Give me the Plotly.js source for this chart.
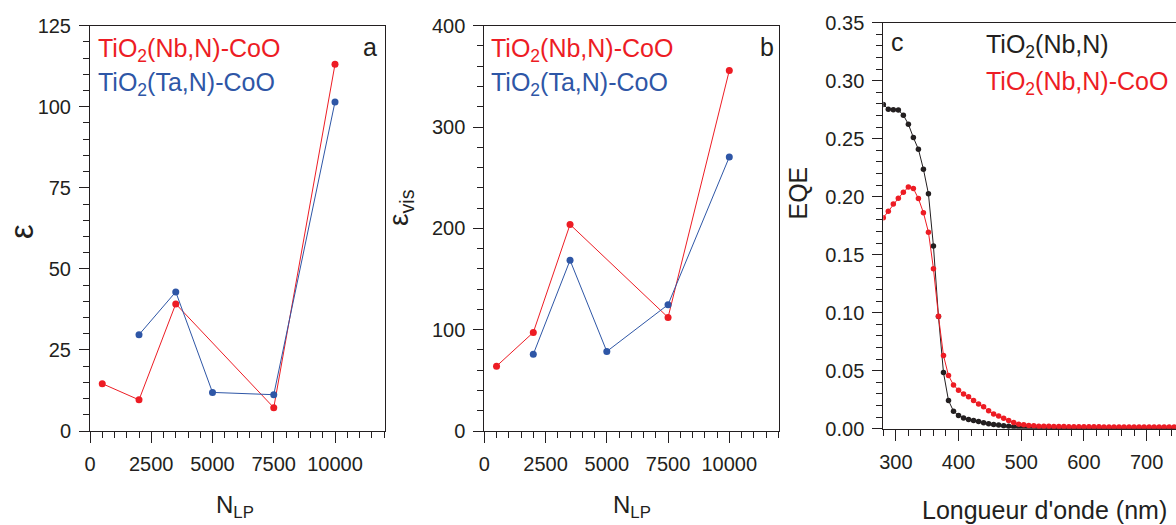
<!DOCTYPE html>
<html>
<head>
<meta charset="utf-8">
<script src="https://cdn.plot.ly/plotly-3.0.1.min.js"></script>
<style>
html,body{margin:0;padding:0;overflow:hidden;background:#fff;width:1176px;height:525px;}
#chart{width:1182px;height:525px;}
</style>
</head>
<body>
<div id="chart"></div>
<script>
// ---- Data ----
// Panel a / b : N_LP values
const nlpNb = [500, 2000, 3500, 7500, 10000];
const nlpTa = [2000, 3500, 5000, 7500, 10000];
// Panel a : epsilon
const epsNb = [14.6, 9.6, 39.2, 7.2, 113.1];
const epsTa = [29.7, 42.9, 11.9, 11.2, 101.5];
// Panel b : epsilon_vis
const epsVisNb = [64, 97.3, 203.8, 112.1, 355.8];
const epsVisTa = [75.8, 168.5, 78.5, 124.7, 270.4];
// Panel c : EQE vs wavelength
const wavelength = [280,288,296,304,312,320,328,336,344,352,360,368,376,384,392,400,408,416,424,432,440,448,456,464,472,480,488,496,504,512,520,528,536,544,552,560,568,576,584,592,600,608,616,624,632,640,648,656,664,672,680,688,696,704,712,720,728,736,744,752];
const eqeNbN = [0.2796,0.2755,0.2750,0.2747,0.2703,0.2625,0.2510,0.2409,0.2238,0.2025,0.1575,0.0968,0.0485,0.0244,0.0152,0.0114,0.0093,0.0080,0.0072,0.0062,0.0052,0.0044,0.0038,0.0032,0.0026,0.0022,0.0017,0.0014,0.0011,0.0009,0.0008,0.0007,0.0006,0.0006,0.0005,0.0005,0.0005,0.0004,0.0004,0.0004,0.0004,0.0003,0.0003,0.0003,0.0003,0.0003,0.0003,0.0003,0.0003,0.0003,0.0003,0.0003,0.0003,0.0003,0.0003,0.0003,0.0003,0.0003,0.0003,0.0003];
const eqeNbNCoO = [0.1819,0.1875,0.1938,0.1987,0.2039,0.2083,0.2071,0.1984,0.1863,0.1695,0.1380,0.0970,0.0632,0.0459,0.0378,0.0332,0.0300,0.0277,0.0243,0.0214,0.0191,0.0156,0.0127,0.0110,0.0090,0.0072,0.0055,0.0040,0.0035,0.0029,0.0026,0.0023,0.0022,0.0021,0.0020,0.0019,0.0019,0.0018,0.0018,0.0018,0.0017,0.0017,0.0017,0.0017,0.0016,0.0016,0.0016,0.0016,0.0016,0.0016,0.0015,0.0015,0.0015,0.0015,0.0015,0.0015,0.0015,0.0015,0.0015,0.0015];
const legendNb = 'TiO<sub>2</sub>(Nb,N)-CoO';
const legendTa = 'TiO<sub>2</sub>(Ta,N)-CoO';
const legendNbN = 'TiO<sub>2</sub>(Nb,N)';

// ---- Styling ----
const W = 1182, H = 525;
const px = x => x / W;
const py = y => 1 - y / H;
const RED = '#ED1C24', BLUE = '#2E56A6', BLACK = '#231F20';
const FONT = 'Liberation Sans, Arial, Helvetica, sans-serif';

const traces = [
  {x: nlpNb, y: epsNb, xaxis:'x', yaxis:'y', mode:'lines+markers', line:{color:RED, width:1}, marker:{color:RED, size:7}},
  {x: nlpTa, y: epsTa, xaxis:'x', yaxis:'y', mode:'lines+markers', line:{color:BLUE, width:1}, marker:{color:BLUE, size:7}},
  {x: nlpNb, y: epsVisNb, xaxis:'x2', yaxis:'y2', mode:'lines+markers', line:{color:RED, width:1}, marker:{color:RED, size:7}},
  {x: nlpTa, y: epsVisTa, xaxis:'x2', yaxis:'y2', mode:'lines+markers', line:{color:BLUE, width:1}, marker:{color:BLUE, size:7}},
  {x: wavelength, y: eqeNbN, xaxis:'x3', yaxis:'y3', mode:'lines+markers', line:{color:BLACK, width:1}, marker:{color:BLACK, size:5.5}},
  {x: wavelength, y: eqeNbNCoO, xaxis:'x3', yaxis:'y3', mode:'lines+markers', line:{color:RED, width:1}, marker:{color:RED, size:5.5}}
];

function mainAx(o) {
  return Object.assign({
    showgrid:false, zeroline:false, showline:true, linecolor:BLACK, linewidth:1,
    mirror:true, ticks:'outside', tickcolor:BLACK, tickwidth:1,
    tickfont:{size:20, color:BLACK, family:FONT}, ticklabelstandoff:4, fixedrange:true
  }, o);
}
function mirrorAx(o) {
  return Object.assign({
    showgrid:false, zeroline:false, showline:false, showticklabels:false,
    ticks:'inside', tickcolor:BLACK, tickwidth:1, ticklen:3, fixedrange:true
  }, o);
}

const dA = [px(90), px(385)], dB = [px(484.3), px(779.3)], dC = [px(883.3), px(1179.2)];
const yAB = [py(431), py(25.7)], yC = [py(428.8), py(22.7)];
const rX = [0, 12041], rC = [280, 752];

const layout = {
  width: W, height: H,
  margin:{l:0, r:0, t:0, b:0},
  paper_bgcolor:'#fff', plot_bgcolor:'#fff',
  showlegend:false,
  font:{family:FONT, color:BLACK},
  xaxis: mainAx({domain:dA, anchor:'y', range:rX, tick0:0, dtick:2500, ticklen:11, tickformat:'d', minor:{dtick:500, ticklen:6, ticks:'outside', tickcolor:BLACK}}),
  yaxis: mainAx({domain:yAB, anchor:'x', range:[0,125], tick0:0, dtick:25, ticklen:10, minor:{dtick:5, ticklen:6, ticks:'outside', tickcolor:BLACK}}),
  xaxis2: mainAx({domain:dB, anchor:'y2', range:rX, tick0:0, dtick:2500, ticklen:11, tickformat:'d', minor:{dtick:500, ticklen:6, ticks:'outside', tickcolor:BLACK}}),
  yaxis2: mainAx({domain:yAB, anchor:'x2', range:[0,400], tick0:0, dtick:100, ticklen:10, minor:{dtick:20, ticklen:6, ticks:'outside', tickcolor:BLACK}}),
  xaxis3: mainAx({domain:dC, anchor:'y3', range:rC, tick0:0, dtick:100, ticklen:11, minor:{dtick:20, ticklen:6, ticks:'outside', tickcolor:BLACK}}),
  yaxis3: mainAx({domain:yC, anchor:'x3', range:[0,0.35], tick0:0, dtick:0.05, ticklen:10, tickformat:'.2f', minor:{dtick:0.01, ticklen:6, ticks:'outside', tickcolor:BLACK}}),
  // small mirror ticks on top / right
  xaxis4: mirrorAx({overlaying:'x', anchor:'y', side:'top', domain:dA, range:rX, tick0:0, dtick:2500, minor:{dtick:500, ticklen:2, ticks:'inside', tickcolor:BLACK}}),
  yaxis4: mirrorAx({overlaying:'y', anchor:'x', side:'right', domain:yAB, range:[0,125], tick0:0, dtick:25, minor:{dtick:5, ticklen:2, ticks:'inside', tickcolor:BLACK}}),
  xaxis5: mirrorAx({overlaying:'x2', anchor:'y2', side:'top', domain:dB, range:rX, tick0:0, dtick:2500, minor:{dtick:500, ticklen:2, ticks:'inside', tickcolor:BLACK}}),
  yaxis5: mirrorAx({overlaying:'y2', anchor:'x2', side:'right', domain:yAB, range:[0,400], tick0:0, dtick:100, minor:{dtick:20, ticklen:2, ticks:'inside', tickcolor:BLACK}}),
  xaxis6: mirrorAx({overlaying:'x3', anchor:'y3', side:'top', domain:dC, range:rC, tick0:0, dtick:100, minor:{dtick:20, ticklen:2, ticks:'inside', tickcolor:BLACK}}),
  annotations: []
};

function ann(text, x, y, o) {
  return Object.assign({text:text, x:px(x), y:py(y), xref:'paper', yref:'paper', showarrow:false,
    xanchor:'left', yanchor:'middle', font:{size:25, color:BLACK, family:FONT}}, o || {});
}
layout.annotations.push(
  // legends panel a
  ann(legendNb, 96, 50, {font:{size:25, color:RED, family:FONT}}),
  ann(legendTa, 96, 84, {font:{size:25, color:BLUE, family:FONT}}),
  ann('a', 369.5, 46.6, {xanchor:'center'}),
  // legends panel b
  ann(legendNb, 489, 50, {font:{size:25, color:RED, family:FONT}}),
  ann(legendTa, 489, 84, {font:{size:25, color:BLUE, family:FONT}}),
  ann('b', 767, 46.6, {xanchor:'center'}),
  // legends panel c
  ann('c', 897.5, 41.6, {xanchor:'center'}),
  ann(legendNbN, 984, 46, {font:{size:25, color:BLACK, family:FONT}}),
  ann(legendNbN + '-CoO', 984, 83, {font:{size:25, color:RED, family:FONT}}),
  // axis titles
  ann('ε', 21, 232, {xanchor:'center', textangle:-90, font:{size:33, color:BLACK, family:FONT}}),
  ann('N<sub>LP</sub>', 235, 506, {xanchor:'center', font:{size:24, color:BLACK, family:FONT}}),
  ann('ε<sub>vis</sub>', 400, 208, {xanchor:'center', textangle:-90, font:{size:28, color:BLACK, family:FONT}}),
  ann('N<sub>LP</sub>', 632, 506, {xanchor:'center', font:{size:24, color:BLACK, family:FONT}}),
  ann('EQE', 797.5, 193, {xanchor:'center', textangle:-90, font:{size:25, color:BLACK, family:FONT}}),
  ann("Longueur d'onde (nm)", 1044, 510, {xanchor:'center', font:{size:25, color:BLACK, family:FONT}})
);

Plotly.newPlot('chart', traces, layout, {staticPlot:true, displayModeBar:false});
</script>
</body>
</html>
